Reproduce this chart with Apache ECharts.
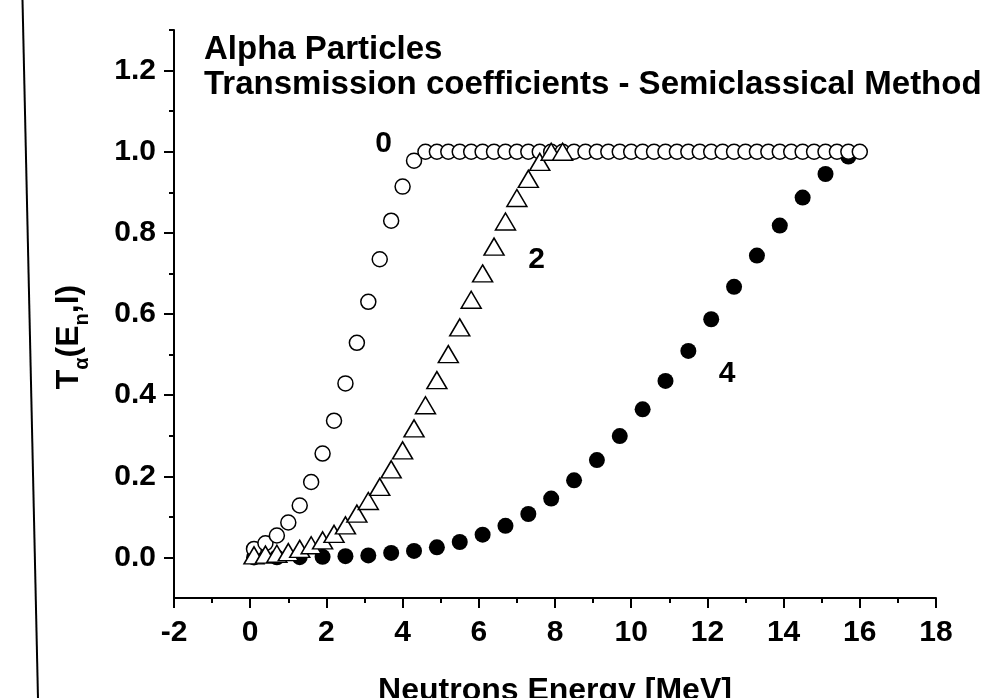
<!DOCTYPE html>
<html>
<head>
<meta charset="utf-8">
<script src="https://cdn.jsdelivr.net/npm/echarts@6.0.0/dist/echarts.min.js"></script>
<style>
  html, body { margin: 0; padding: 0; background: #fff; }
  #chart { width: 995px; height: 698px; }
</style>
</head>
<body>
<div id="chart"></div>
<script>
// l = 0, open circles
const energy0 = [0.1, 0.4, 0.7, 1.0, 1.3, 1.6, 1.9, 2.2, 2.5, 2.8, 3.1, 3.4, 3.7, 4.0, 4.3, 4.6, 4.9, 5.2,
  5.5, 5.8, 6.1, 6.4, 6.7, 7.0, 7.3, 7.6, 7.9, 8.2, 8.5, 8.8, 9.1, 9.4, 9.7, 10.0, 10.3, 10.6, 10.9, 11.2,
  11.5, 11.8, 12.1, 12.4, 12.7, 13.0, 13.3, 13.6, 13.9, 14.2, 14.5, 14.8, 15.1, 15.4, 15.7, 16.0];
const trans0 = [0.021, 0.035, 0.054, 0.086, 0.128, 0.186, 0.256, 0.337, 0.429, 0.529, 0.630, 0.735, 0.830,
  0.914, 0.978, 1.0, 1.0, 1.0, 1.0, 1.0, 1.0, 1.0, 1.0, 1.0, 1.0, 1.0, 1.0, 1.0, 1.0, 1.0, 1.0, 1.0, 1.0,
  1.0, 1.0, 1.0, 1.0, 1.0, 1.0, 1.0, 1.0, 1.0, 1.0, 1.0, 1.0, 1.0, 1.0, 1.0, 1.0, 1.0, 1.0, 1.0, 1.0, 1.0];

// l = 2, open triangles
const energy2 = [0.1, 0.4, 0.7, 1.0, 1.3, 1.6, 1.9, 2.2, 2.5, 2.8, 3.1, 3.4, 3.7, 4.0, 4.3, 4.6, 4.9, 5.2,
  5.5, 5.8, 6.1, 6.4, 6.7, 7.0, 7.3, 7.6, 7.9, 8.2];
const trans2 = [0.005, 0.007, 0.009, 0.013, 0.021, 0.030, 0.042, 0.058, 0.079, 0.108, 0.139, 0.174, 0.217,
  0.264, 0.318, 0.375, 0.437, 0.501, 0.567, 0.635, 0.700, 0.766, 0.828, 0.886, 0.933, 0.975, 1.0, 1.0];

// l = 4, filled circles
const energy4 = [0.1, 0.7, 1.3, 1.9, 2.5, 3.1, 3.7, 4.3, 4.9, 5.5, 6.1, 6.7, 7.3, 7.9, 8.5, 9.1, 9.7,
  10.3, 10.9, 11.5, 12.1, 12.7, 13.3, 13.9, 14.5, 15.1, 15.7];
const trans4 = [0.0001, 0.0003, 0.0007, 0.0015, 0.003, 0.005, 0.011, 0.016, 0.025, 0.038, 0.056, 0.078,
  0.107, 0.145, 0.190, 0.240, 0.299, 0.365, 0.435, 0.509, 0.587, 0.667, 0.744, 0.818, 0.887, 0.945, 0.988];

// curve labels (l value and where it sits, in data units)
const curveNames = ["0", "2", "4"];
const curveLabelX = [3.5, 7.52, 12.52];
const curveLabelY = [1.02, 0.733, 0.452];

const yMajorTicks = [0, 0.2, 0.4, 0.6, 0.8, 1.0, 1.2];
const yMinorTicks = [0.1, 0.3, 0.5, 0.7, 0.9, 1.1, 1.3];

const FONT = "Liberation Sans, Arial, sans-serif";

function pairs(xs, ys) {
  return xs.map((x, i) => [x, ys[i]]);
}

const chart = echarts.init(document.getElementById("chart"), null, { renderer: "canvas" });

const axisLine = { show: true, onZero: false, lineStyle: { color: "#000", width: 2 } };

const option = {
  animation: false,
  backgroundColor: "#fff",
  title: {
    text: "Alpha Particles\nTransmission coefficients - Semiclassical Method",
    left: 204,
    top: 32,
    padding: 0,
    textStyle: { fontFamily: FONT, fontSize: 33, fontWeight: "bold", color: "#000", lineHeight: 35 },
  },
  grid: { left: 174, right: 59, top: 30, bottom: 100, outerBoundsMode: "none" },
  xAxis: {
    type: "value",
    min: -2,
    max: 18,
    interval: 2,
    name: "Neutrons Energy [MeV]",
    nameLocation: "middle",
    nameGap: 77,
    nameTextStyle: { fontFamily: FONT, fontSize: 32, fontWeight: "bold", color: "#000" },
    axisLine: axisLine,
    axisTick: { show: true, inside: false, length: 10, lineStyle: { color: "#000", width: 2 } },
    minorTick: { show: true, splitNumber: 2, length: 5, lineStyle: { color: "#000", width: 2 } },
    splitLine: { show: false },
    minorSplitLine: { show: false },
    axisLabel: { fontFamily: FONT, fontSize: 30, fontWeight: "bold", color: "#000", margin: 20 },
  },
  yAxis: [
    {
      type: "value",
      min: -0.1,
      max: 1.3,
      interval: 0.1,
      name: "{a|T}{s|α}{a|(E}{s|n}{a|,l)}",
      nameLocation: "middle",
      nameRotate: 90,
      nameGap: 82,
      nameTextStyle: {
        fontFamily: FONT,
        fontSize: 32,
        fontWeight: "bold",
        color: "#000",
        padding: [0, 46, 0, 0],
        rich: {
          a: { fontFamily: FONT, fontSize: 32, fontWeight: "bold", color: "#000", lineHeight: 46 },
          s: { fontFamily: FONT, fontSize: 20, fontWeight: "bold", color: "#000", lineHeight: 20, verticalAlign: "bottom" },
        },
      },
      axisLine: axisLine,
      axisTick: { show: true, inside: false, length: 10, customValues: yMajorTicks, lineStyle: { color: "#000", width: 2 } },
      splitLine: { show: false },
      axisLabel: {
        fontFamily: FONT,
        fontSize: 30,
        fontWeight: "bold",
        color: "#000",
        margin: 18,
        customValues: yMajorTicks,
        formatter: (v) => v.toFixed(1),
      },
    },
    {
      type: "value",
      min: -0.1,
      max: 1.3,
      interval: 0.1,
      position: "left",
      axisLine: { show: false, onZero: false },
      axisTick: { show: true, inside: false, length: 5, customValues: yMinorTicks, lineStyle: { color: "#000", width: 2 } },
      axisLabel: { show: false },
      splitLine: { show: false },
    },
  ],
  graphic: [
    {
      type: "line",
      shape: { x1: 22.5, y1: 0, x2: 38, y2: 698 },
      style: { stroke: "#000", lineWidth: 2 },
      silent: true,
    },
  ],
  series: [
    {
      name: "l=4",
      type: "scatter",
      data: pairs(energy4, trans4),
      symbol: "circle",
      symbolSize: 16,
      itemStyle: { color: "#000", opacity: 1 },
    },
    {
      name: "l=0",
      type: "scatter",
      data: pairs(energy0, trans0),
      symbol: "circle",
      symbolSize: 15,
      itemStyle: { color: "#fff", borderColor: "#000", borderWidth: 1.5, opacity: 1 },
    },
    {
      name: "l=2",
      type: "scatter",
      data: pairs(energy2, trans2),
      symbol: "triangle",
      symbolSize: [20, 17],
      itemStyle: { color: "#fff", borderColor: "#000", borderWidth: 1.5, opacity: 1 },
    },
    {
      name: "labels",
      type: "scatter",
      data: curveNames.map((n, i) => ({ name: n, value: [curveLabelX[i], curveLabelY[i]] })),
      symbolSize: 1,
      itemStyle: { color: "rgba(0,0,0,0)", opacity: 1 },
      label: {
        show: true,
        position: "inside",
        formatter: (p) => p.name,
        fontFamily: FONT,
        fontSize: 30,
        fontWeight: "bold",
        color: "#000",
      },
      silent: true,
    },
  ],
};

chart.setOption(option);
</script>
</body>
</html>
